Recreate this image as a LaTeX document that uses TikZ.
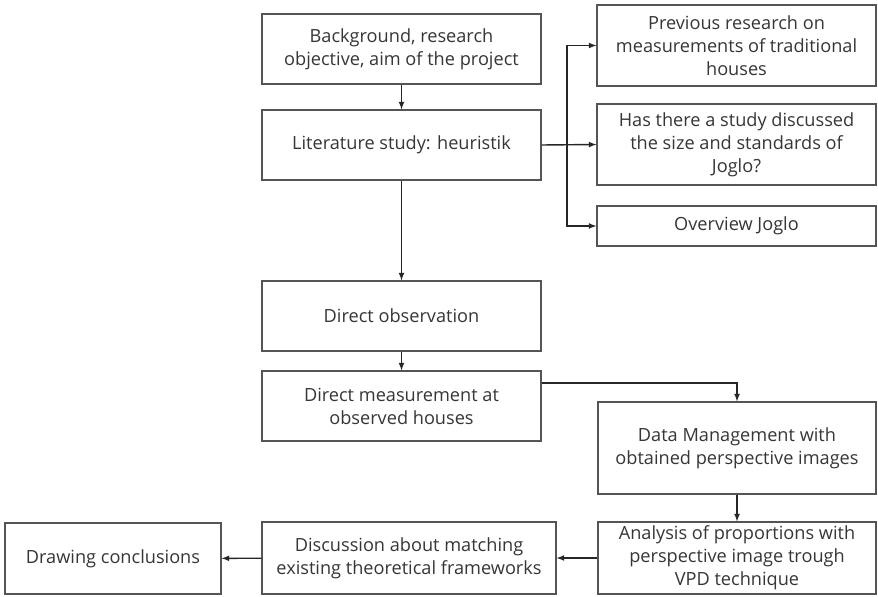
\documentclass[tikz,border=0pt]{standalone}
\usepackage{fontspec}
\setmainfont{Open Sans}
\usepackage{xcolor}
\usepackage{tikz}
\usetikzlibrary{calc, positioning}

\definecolor{txtgray}{HTML}{363636}
\definecolor{edgegray}{HTML}{555555}

\tikzset{
    box/.style={draw=edgegray, line width=1.1pt, fill=white, text=txtgray,
        align=center, inner sep=2pt, font=\fontsize{15.5}{19.5}\selectfont},
    link/.style={->, black!85, line width=1.2pt}
}

\begin{document}
\begin{tikzpicture}[>=latex, x=0.03cm, y=-0.03cm]
    % 0. Khung giới hạn
    \useasboundingbox (0,0) rectangle (878,597);

    % 1. Các khối cột giữa
    \node[box, minimum width=279*0.03cm, minimum height=70*0.03cm] (bg) at (401.5,49) {Background, research\\objective, aim of the project};
    \node[box, minimum width=279*0.03cm, minimum height=70*0.03cm] (lit) at (401.5,145) {Literature study: heuristik};
    \node[box, minimum width=279*0.03cm, minimum height=70*0.03cm] (obs) at (401.5,316) {Direct observation};
    \node[box, minimum width=279*0.03cm, minimum height=70*0.03cm] (meas) at (401.5,406) {Direct measurement at\\observed houses};

    % 2. Các khối cột phải
    \node[box, minimum width=279*0.03cm, minimum height=81*0.03cm] (prev) at (736.5,45.5) {Previous research on\\measurements of traditional\\houses};
    \node[box, minimum width=279*0.03cm, minimum height=81*0.03cm] (has) at (736.5,144.5) {Has there a study discussed\\the size and standards of\\Joglo?};
    \node[box, minimum width=279*0.03cm, minimum height=40*0.03cm] (over) at (736.5,226) {Overview Joglo};
    \node[box, minimum width=278*0.03cm, minimum height=92*0.03cm] (dm) at (737,448) {Data Management with\\obtained perspective images};
    \node[box, minimum width=278*0.03cm, minimum height=72*0.03cm, inner sep=0pt] (ana) at (737,558) {Analysis of proportions with\\perspective image trough\\VPD technique};

    % 3. Hàng dưới cùng
    \node[box, minimum width=294*0.03cm, minimum height=72*0.03cm] (disc) at (409,558) {Discussion about matching\\existing theoretical frameworks};
    \node[box, minimum width=216*0.03cm, minimum height=71*0.03cm] (conc) at (113,558.5) {Drawing conclusions};

    % 4. Các mũi tên nối
    \draw[link] (bg) -- (lit);
    \draw[link] (lit.east) -- (has.west);
    \coordinate (fork) at (567,145);
    \draw[link] (fork) |- (prev.west);
    \draw[link] (fork) |- (over.west);
    \draw[link] (lit) -- (obs);
    \draw[link] (obs) -- (meas);
    \draw[link] ([yshift=0.69cm]meas.east) -| (dm.north);
    \draw[link] (dm) -- (ana);
    \draw[link] (ana) -- (disc);
    \draw[link] (disc) -- (conc);
\end{tikzpicture}
\end{document}
